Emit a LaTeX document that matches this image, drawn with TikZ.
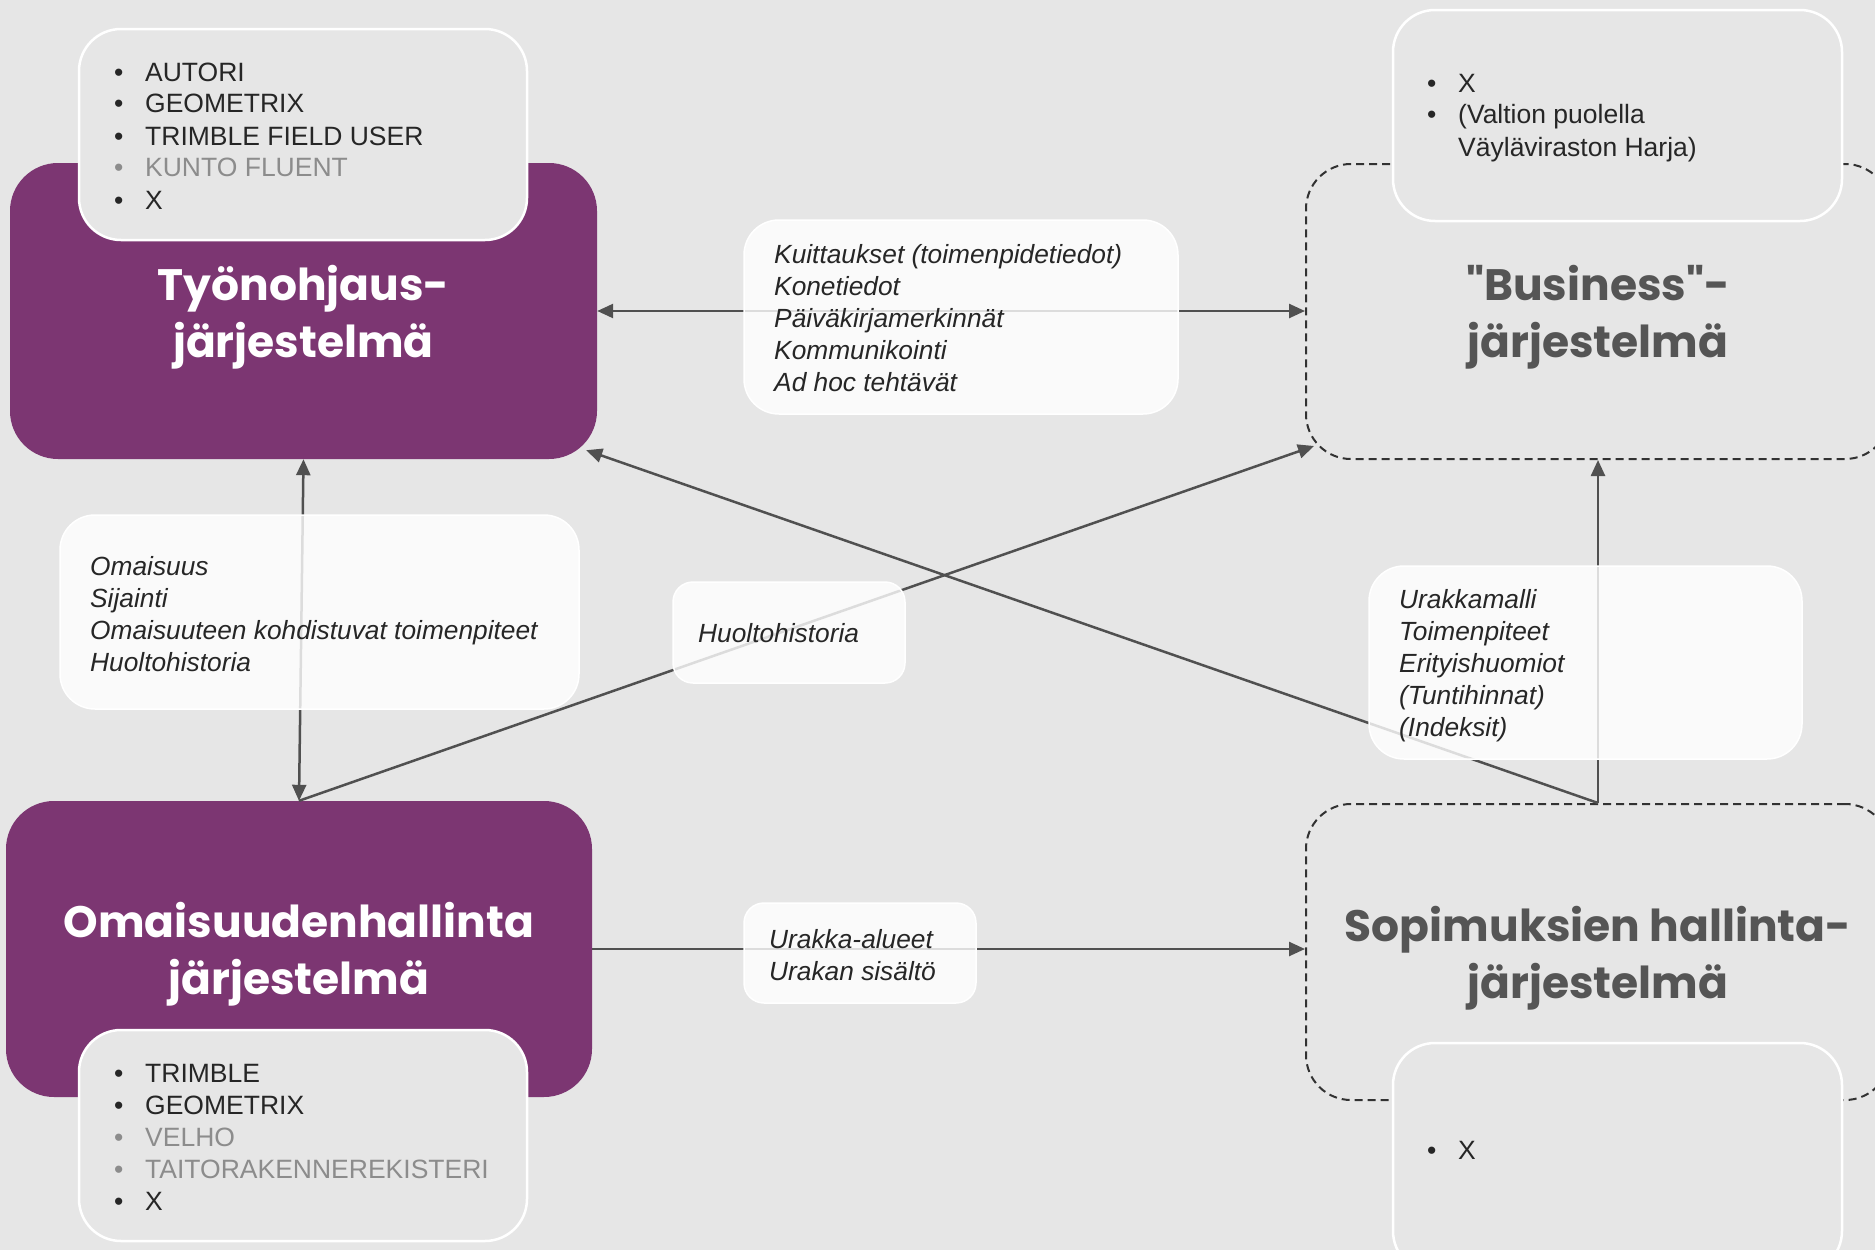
\documentclass[tikz,border=0pt]{standalone}
\usepackage{fontspec}
\setmainfont{Liberation Sans}
\newfontfamily\titlefont{Poppins}
\usetikzlibrary{arrows.meta,calc}
\definecolor{bg}{RGB}{230,230,230}
\definecolor{purp}{RGB}{124,54,114}
\definecolor{txt}{RGB}{38,38,38}
\definecolor{txtgray}{RGB}{140,140,140}
\definecolor{ttlgray}{RGB}{85,85,85}
\definecolor{arr}{RGB}{80,80,80}
\definecolor{dashc}{RGB}{50,50,50}
\newcommand{\bul}{\makebox[31pt][l]{•}}
\begin{document}
\begin{tikzpicture}[x=1pt,y=-1pt,
  purpbox/.style={rectangle, rounded corners=48pt, fill=purp, inner sep=0},
  dashblob/.style={rectangle, rounded corners=45pt, draw=dashc, line width=2pt,
    dash pattern=on 8pt off 5pt, inner sep=0},
  ttl/.style={inner sep=0, font=\titlefont\bfseries\fontsize{44}{57}\selectfont, align=center},
  listbox/.style={rectangle, rounded corners=42pt, fill=bg, draw=white, line width=2.5pt, inner sep=0},
  lblbox/.style={rectangle, fill=white, fill opacity=0.8, draw=white, line width=1.5pt, inner sep=0},
  listtxt/.style={anchor=base west, inner sep=0, text=txt, font=\fontsize{26.5}{32}\selectfont},
  lbltxt/.style={anchor=base west, inner sep=0, text=txt, font=\itshape\fontsize{26.3}{32}\selectfont},
  conn/.style={draw=arr, line width=2.5pt, -{Triangle[length=16pt,width=14pt]}},
  conntwo/.style={draw=arr, line width=2.5pt, {Triangle[length=16pt,width=14pt]}-{Triangle[length=16pt,width=14pt]}}
]
\useasboundingbox (0,0) rectangle (1875,1250);
\clip (0,0) rectangle (1875,1250);
\fill[bg] (0,0) rectangle (1875,1250);

% dashed systems
\node[dashblob, minimum width=584pt, minimum height=295pt] (bus) at (1598,311.5) {};
\node[ttl, text=ttlgray] (bust) at ($(bus.center)+(0,6)$) {"Business"-\\järjestelmä};
\node[dashblob, minimum width=584pt, minimum height=296pt] (sopi) at (1598,952) {};
\node[ttl, text=ttlgray] (sopit) at ($(sopi.center)+(0,6)$) {Sopimuksien hallinta-\\järjestelmä};

% purple systems
\node[purpbox, minimum width=587pt, minimum height=296pt] (tyo) at (303.5,311) {};
\node[ttl, text=white] (tyot) at ($(tyo.center)+(0,6)$) {Työnohjaus-\\järjestelmä};
\node[purpbox, minimum width=586pt, minimum height=296pt] (omai) at (299,949) {};
\node[ttl, text=white] (omait) at ($(omai.center)+(0,5)$) {Omaisuudenhallinta\\järjestelmä};

% connectors
\draw[conntwo] (tyo.east) -- (tyo.east -| bus.west);
\draw[conntwo] (tyo.south) -- (omai.north);
\draw[conn] (omai.north) -- ($(bus.south west)+(9,-14)$);
\draw[conn] (sopi.north) -- ($(tyo.south east)+(-11,-9)$);
\draw[conn] (sopi.north) -- (sopi.north |- bus.south);
\draw[conn] (omai.east) -- (omai.east -| sopi.west);

% label boxes
\node[lblbox, rounded corners=35pt, minimum width=434pt, minimum height=194pt] (lk) at (961,317) {};
\node[lbltxt] (lkt) at (774,263) {\begin{tabular}[t]{@{}l@{}}Kuittaukset (toimenpidetiedot)\\Konetiedot\\Päiväkirjamerkinnät\\Kommunikointi\\Ad hoc tehtävät\end{tabular}};

\node[lblbox, rounded corners=35pt, minimum width=519pt, minimum height=194pt] (lo) at (319.5,612) {};
\node[lbltxt] (lot) at (90,575) {\begin{tabular}[t]{@{}l@{}}Omaisuus\\Sijainti\\Omaisuuteen kohdistuvat toimenpiteet\\Huoltohistoria\end{tabular}};

\node[lblbox, rounded corners=20pt, minimum width=232pt, minimum height=101pt] (lh) at (789,632.5) {};
\node[lbltxt] (lht) at (698,642) {Huoltohistoria};

\node[lblbox, rounded corners=35pt, minimum width=433pt, minimum height=193pt] (lu) at (1585.5,662.5) {};
\node[lbltxt] (lut) at (1399,608) {\begin{tabular}[t]{@{}l@{}}Urakkamalli\\Toimenpiteet\\Erityishuomiot\\(Tuntihinnat)\\(Indeksit)\end{tabular}};

\node[lblbox, rounded corners=20pt, minimum width=232pt, minimum height=100pt] (la) at (860,953) {};
\node[lbltxt] (lat) at (769,948) {\begin{tabular}[t]{@{}l@{}}Urakka-alueet\\Urakan sisältö\end{tabular}};

% system lists
\node[listbox, minimum width=448pt, minimum height=211pt] (l1) at (303,134.5) {};
\node[listtxt] (l1t) at (114,81) {\begin{tabular}[t]{@{}l@{}}\bul AUTORI\\\bul GEOMETRIX\\\bul TRIMBLE FIELD USER\\\color{txtgray}\bul KUNTO FLUENT\\\bul X\end{tabular}};

\node[listbox, minimum width=449pt, minimum height=211pt] (l2) at (1617.5,115.5) {};
\node[listtxt] (l2t) at (1427,92) {\begin{tabular}[t]{@{}l@{}}\bul X\\\bul (Valtion puolella\\\hspace{31pt}Väyläviraston Harja)\end{tabular}};

\node[listbox, minimum width=448pt, minimum height=211pt] (l3) at (303,1135.5) {};
\node[listtxt] (l3t) at (114,1082) {\begin{tabular}[t]{@{}l@{}}\bul TRIMBLE\\\bul GEOMETRIX\\\color{txtgray}\bul VELHO\\\color{txtgray}\bul TAITORAKENNEREKISTERI\\\bul X\end{tabular}};

\node[listbox, minimum width=449pt, minimum height=230pt] (l4) at (1617.5,1158) {};
\node[listtxt] (l4t) at (1427,1159) {\bul X};
\end{tikzpicture}
\end{document}
